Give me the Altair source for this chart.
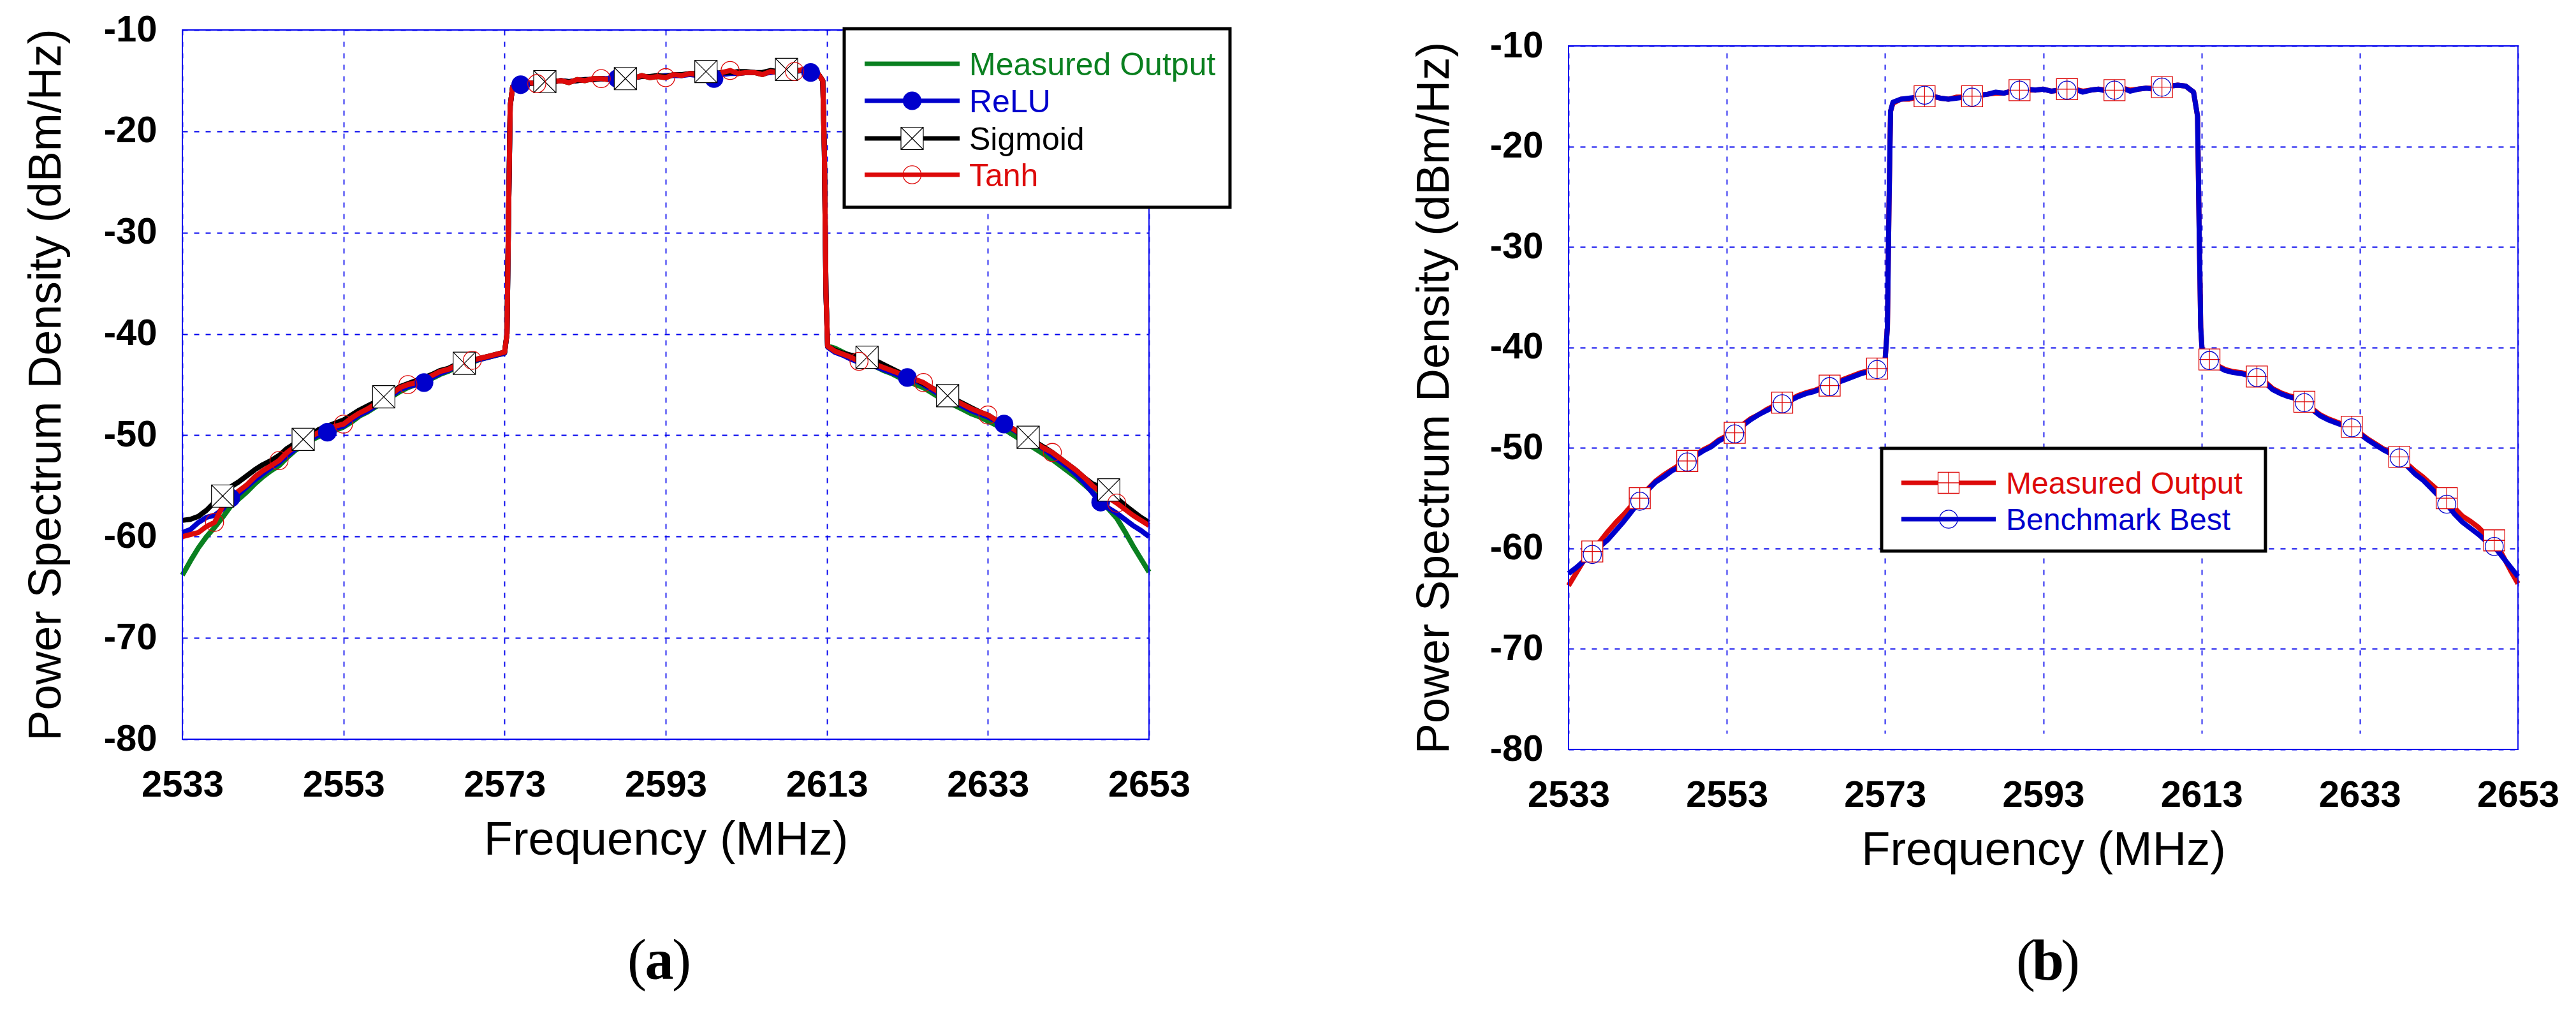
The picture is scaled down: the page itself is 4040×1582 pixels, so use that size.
import altair as alt
import pandas as pd

# frequency grid (MHz) shared by every trace
freq_left = list(range(2533, 2574))
freq_rise = [2573.3, 2573.5, 2573.7]
freq_band = list(range(2574, 2613))
freq_fall = [2612.5, 2612.7, 2612.9, 2613.1]
freq_right = list(range(2614, 2654))

x_ticks = [2533, 2553, 2573, 2593, 2613, 2633, 2653]
y_ticks = [-80, -70, -60, -50, -40, -30, -20, -10]

# ---- panel (a) -------------------------------------------------------------
meas_a_left = [-63.8, -62.4, -61.1, -60.0, -59.1, -58.1, -57.0, -56.3, -55.6, -54.8,
               -54.1, -53.5, -53.0, -52.2, -51.5, -51.0, -50.5, -50.1, -49.8, -49.5,
               -49.2, -48.7, -48.1, -47.7, -47.2, -46.7, -46.2, -45.7, -45.3, -45.0,
               -44.8, -44.4, -44.0, -43.7, -43.3, -43.0, -42.8, -42.5, -42.3, -42.1, -41.9]
meas_a_rise = [-40.0, -28.0, -17.5]
meas_a_band = [-15.6, -15.4, -15.2, -15.3, -15.0, -15.1, -15.0, -15.2, -14.9, -15.0,
               -14.8, -14.8, -14.9, -14.7, -14.6, -14.8, -14.5, -14.7, -14.6, -14.7,
               -14.4, -14.5, -14.3, -14.4, -14.3, -14.5, -14.2, -14.1, -14.3, -14.2,
               -14.2, -14.4, -14.1, -14.2, -14.0, -14.1, -14.0, -14.1, -14.4]
meas_a_fall = [-15.0, -22.0, -36.0, -41.2]
meas_a_right = [-41.4, -41.8, -42.2, -42.6, -42.9, -43.2, -43.6, -43.9, -44.3, -44.6,
                -45.0, -45.3, -45.8, -46.3, -46.7, -47.1, -47.5, -47.9, -48.2, -48.6,
                -49.0, -49.4, -49.9, -50.4, -50.9, -51.4, -51.9, -52.4, -53.0, -53.6,
                -54.2, -54.9, -55.6, -56.4, -57.3, -58.2, -59.5, -60.9, -62.2, -63.5]

relu_left = [-59.6, -59.3, -58.6, -58.1, -57.9, -57.3, -56.2, -55.8, -55.1, -54.4,
             -53.8, -53.2, -52.7, -52.0, -51.4, -50.9, -50.4, -49.9, -49.7, -49.3,
             -49.1, -48.5, -48.0, -47.6, -47.1, -46.6, -46.1, -45.5, -45.2, -45.0,
             -44.8, -44.3, -43.9, -43.6, -43.2, -42.9, -42.7, -42.5, -42.3, -42.1, -41.9]
relu_rise = [-40.0, -28.0, -17.5]
relu_band = [-15.6, -15.4, -15.3, -15.2, -15.1, -15.1, -15.0, -15.1, -15.0, -14.9,
             -14.9, -14.8, -14.8, -14.8, -14.7, -14.7, -14.6, -14.6, -14.6, -14.5,
             -14.5, -14.5, -14.4, -14.5, -14.6, -14.8, -14.4, -14.3, -14.3, -14.2,
             -14.2, -14.3, -14.2, -14.1, -14.1, -14.1, -14.0, -14.2, -14.4]
relu_fall = [-15.0, -22.0, -36.0, -41.3]
relu_right = [-41.8, -42.1, -42.5, -42.8, -43.0, -43.2, -43.5, -43.8, -44.1, -44.3,
              -44.6, -45.0, -45.5, -46.0, -46.4, -46.8, -47.2, -47.6, -47.9, -48.2,
              -48.6, -48.9, -49.4, -49.9, -50.4, -50.9, -51.4, -52.0, -52.6, -53.2,
              -53.9, -54.7, -55.7, -56.6, -57.2, -57.7, -58.3, -58.9, -59.4, -60.0]

sigm_left = [-58.4, -58.3, -58.0, -57.4, -56.6, -56.0, -55.1, -54.6, -54.0, -53.4,
             -52.9, -52.5, -52.0, -51.3, -50.8, -50.4, -49.9, -49.4, -49.1, -48.8,
             -48.5, -48.0, -47.5, -47.1, -46.7, -46.2, -45.8, -45.2, -44.9, -44.6,
             -44.3, -44.0, -43.6, -43.4, -43.0, -42.9, -42.6, -42.4, -42.2, -42.0, -41.8]
sigm_rise = [-40.0, -28.0, -17.5]
sigm_band = [-15.6, -15.4, -15.3, -15.2, -15.1, -15.1, -15.0, -15.1, -15.0, -14.9,
             -14.9, -14.8, -14.9, -14.8, -14.8, -14.7, -14.6, -14.6, -14.5, -14.6,
             -14.4, -14.4, -14.3, -14.3, -14.1, -14.3, -14.2, -14.2, -14.1, -14.1,
             -14.2, -14.2, -14.0, -14.1, -13.9, -14.0, -14.0, -14.1, -14.4]
sigm_fall = [-15.0, -22.0, -36.0, -41.2]
sigm_right = [-41.6, -41.9, -42.1, -42.2, -42.3, -42.6, -43.0, -43.4, -43.8, -44.1,
              -44.5, -44.9, -45.3, -45.7, -46.1, -46.5, -46.9, -47.3, -47.7, -48.0,
              -48.5, -48.9, -49.3, -49.8, -50.2, -50.7, -51.2, -51.7, -52.3, -52.9,
              -53.5, -54.2, -54.8, -55.1, -55.4, -56.2, -56.9, -57.5, -58.1, -58.6]

tanh_left = [-60.0, -59.8, -59.6, -59.0, -58.6, -57.0, -56.1, -55.5, -54.9, -54.1,
             -53.5, -53.0, -52.5, -51.7, -51.1, -50.6, -50.1, -49.7, -49.4, -49.1,
             -48.9, -48.3, -47.8, -47.4, -46.9, -46.4, -45.9, -45.3, -45.0, -44.8,
             -44.5, -44.1, -43.7, -43.5, -43.1, -42.8, -42.6, -42.4, -42.2, -42.0, -41.8]
tanh_rise = [-40.0, -28.0, -17.5]
tanh_band = [-15.6, -15.4, -15.2, -15.3, -15.0, -15.1, -15.0, -15.2, -14.9, -15.0,
             -14.8, -14.8, -14.9, -14.7, -14.6, -14.8, -14.5, -14.7, -14.6, -14.7,
             -14.4, -14.5, -14.3, -14.4, -14.3, -14.5, -14.2, -14.0, -14.3, -14.2,
             -14.2, -14.4, -14.1, -14.2, -14.0, -14.1, -13.9, -14.1, -14.4]
tanh_fall = [-15.0, -22.0, -36.0, -41.2]
tanh_right = [-41.7, -42.0, -42.3, -42.7, -42.8, -43.0, -43.3, -43.6, -43.9, -44.2,
              -44.5, -44.8, -45.3, -45.8, -46.2, -46.6, -47.0, -47.4, -47.7, -48.0,
              -48.5, -48.9, -49.3, -49.8, -50.3, -50.8, -51.3, -51.7, -52.3, -52.9,
              -53.5, -54.2, -55.0, -55.6, -56.2, -56.7, -57.3, -57.9, -58.4, -58.9]

relu_marks = [2539, 2551, 2563, 2575, 2587, 2599, 2611, 2623, 2635, 2647]
sigm_marks = [2538, 2548, 2558, 2568, 2578, 2588, 2598, 2608, 2618, 2628, 2638, 2648]
tanh_marks = [2537, 2545, 2553, 2561, 2569, 2577, 2585, 2593, 2601, 2609, 2617, 2625,
              2633, 2641, 2649]

# ---- panel (b) -------------------------------------------------------------
meas_b_left = [-63.7, -62.4, -61.1, -60.3, -59.3, -58.3, -57.4, -56.6, -55.7, -55.0,
               -54.1, -53.3, -52.7, -52.2, -51.7, -51.3, -50.7, -50.2, -49.8, -49.2,
               -48.8, -48.5, -47.7, -47.1, -46.7, -46.2, -45.8, -45.5, -45.2, -44.8,
               -44.5, -44.3, -44.0, -43.8, -43.4, -43.1, -42.8, -42.5, -42.3, -42.1, -41.3]
meas_b_rise = [-38.0, -26.0, -16.5]
meas_b_band = [-15.7, -15.3, -15.3, -15.1, -15.0, -15.0, -15.2, -15.3, -15.1, -15.1,
               -15.0, -14.9, -14.8, -14.7, -14.7, -14.5, -14.4, -14.4, -14.4, -14.3,
               -14.5, -14.4, -14.3, -14.3, -14.5, -14.4, -14.3, -14.4, -14.4, -14.2,
               -14.4, -14.3, -14.2, -14.2, -14.1, -14.0, -13.9, -14.0, -14.6]
meas_b_fall = [-17.0, -28.0, -38.0, -40.6]
meas_b_right = [-41.2, -41.8, -42.2, -42.4, -42.5, -42.7, -42.9, -43.4, -44.1, -44.5,
                -44.8, -45.0, -45.4, -46.1, -46.7, -47.1, -47.4, -47.7, -47.9, -48.5,
                -49.1, -49.6, -50.1, -50.5, -50.9, -51.6, -52.3, -52.9, -53.6, -54.3,
                -55.0, -56.0, -56.8, -57.3, -57.9, -58.7, -59.2, -60.6, -62.1, -63.5]

bench_left = [-62.5, -61.9, -61.2, -60.6, -59.8, -59.1, -58.2, -57.3, -56.3, -55.3,
              -54.2, -53.4, -52.9, -52.3, -51.9, -51.4, -50.8, -50.3, -49.9, -49.3,
              -48.9, -48.6, -47.8, -47.2, -46.7, -46.3, -45.9, -45.6, -45.3, -44.9,
              -44.6, -44.4, -44.1, -43.9, -43.5, -43.2, -42.9, -42.6, -42.4, -42.2, -41.4]
bench_rise = [-38.0, -26.0, -16.5]
bench_band = [-15.6, -15.3, -15.2, -15.1, -14.9, -15.0, -15.2, -15.3, -15.2, -15.1,
              -15.1, -14.9, -14.8, -14.6, -14.7, -14.5, -14.4, -14.3, -14.4, -14.3,
              -14.5, -14.4, -14.4, -14.3, -14.6, -14.4, -14.3, -14.5, -14.4, -14.2,
              -14.5, -14.3, -14.2, -14.3, -14.1, -14.0, -13.9, -14.0, -14.6]
bench_fall = [-17.0, -28.0, -38.0, -40.6]
bench_right = [-41.3, -41.9, -42.3, -42.5, -42.6, -42.8, -43.0, -43.5, -44.2, -44.6,
               -44.9, -45.1, -45.5, -46.2, -46.8, -47.2, -47.5, -47.8, -48.0, -48.6,
               -49.2, -49.7, -50.2, -50.6, -51.0, -51.8, -52.6, -53.2, -54.0, -54.8,
               -55.6, -56.6, -57.4, -58.0, -58.6, -59.3, -59.8, -60.8, -61.8, -62.8]

b_marks = [2536, 2542, 2548, 2554, 2560, 2566, 2572, 2578, 2584, 2590, 2596, 2602,
           2608, 2614, 2620, 2626, 2632, 2638, 2644, 2650]

SANS = "Liberation Sans"
SERIF = "Liberation Serif"
GREEN = "#0a8020"
BLUE = "#0000cc"
RED = "#dd0a0a"
GRID = "#0000ee"
BOX_X = "M-1,-1L1,-1L1,1L-1,1Z M-1,-1L1,1 M1,-1L-1,1"
BOX_PLUS = "M-1,-1L1,-1L1,1L-1,1Z M0,-1L0,1 M-1,0L1,0"


def trace(name, left, rise, band, fall, right):
    freq = freq_left + freq_rise + freq_band + freq_fall + freq_right
    psd = left + rise + band + fall + right
    assert len(freq) == len(psd), name
    return pd.DataFrame({"freq": freq, "psd": psd, "series": name})


def encodings(w, h, ytitle_x, top):
    # plot box runs from y=top to y=top+h inside a group of height top+h
    x = alt.X("freq:Q", scale=alt.Scale(domain=[2533, 2653], nice=False, zero=False),
              axis=alt.Axis(values=x_ticks, labelExpr="'' + datum.value", labelFont=SANS,
                            labelFontSize=58, labelFontWeight="bold", labelColor="black",
                            labelPadding=43, labelFlush=False, labelOverlap=False,
                            ticks=False, tickSize=0, domain=False,
                            grid=True, gridColor=GRID, gridDash=[8, 10], gridWidth=1.8,
                            title="Frequency (MHz)", titleFont=SANS, titleFontSize=74,
                            titleFontWeight="normal", titleColor="black",
                            titleX=w / 2, titleY=180, titleAlign="center",
                            titleBaseline="alphabetic"))
    y = alt.Y("psd:Q", scale=alt.Scale(domain=[-80, -10], range=[top + h, top],
                                       nice=False, zero=False),
              axis=alt.Axis(values=y_ticks, labelExpr="'' + datum.value", labelFont=SANS,
                            labelFontSize=58, labelFontWeight="bold", labelColor="black",
                            labelPadding=40, labelFlush=False, labelOverlap=False,
                            ticks=False, tickSize=0, domain=False,
                            grid=True, gridColor=GRID, gridDash=[8, 10], gridWidth=1.8,
                            title="Power Spectrum Density (dBm/Hz)", titleFont=SANS,
                            titleFontSize=72, titleFontWeight="normal", titleColor="black",
                            titleAngle=270, titleX=ytitle_x, titleY=top + h / 2,
                            titleAlign="center", titleBaseline="alphabetic"))
    return x, y


def line(df, name, color, x, y):
    return alt.Chart(df).transform_filter(alt.datum.series == name).mark_line(
        color=color, strokeWidth=8, strokeJoin="round").encode(x=x, y=y)


def markers(df, name, marks, x, y, **style):
    return alt.Chart(df).transform_filter(alt.datum.series == name).transform_filter(
        alt.FieldOneOfPredicate(field="freq", oneOf=marks)).mark_point(
        opacity=1, **style).encode(x=x, y=y)


one = pd.DataFrame({"k": [0]})


def frame(w, h, top):
    # white strip hides the grid above the plot box, then the blue plot border
    cover = alt.Chart(one).mark_rect(fill="white").encode(
        x=alt.value(-3), x2=alt.value(w + 3), y=alt.value(-5), y2=alt.value(top - 1))
    box = alt.Chart(one).mark_rect(filled=False, stroke=GRID, strokeWidth=1.8).encode(
        x=alt.value(0), x2=alt.value(w), y=alt.value(top), y2=alt.value(top + h))
    return [cover, box] if top > 0 else [box]


def legend(box, rows, line_x, text_x, font_size, text_dy):
    x1, x2, y1, y2 = box
    layers = [alt.Chart(one).mark_rect(fill="white", stroke="black", strokeWidth=5).encode(
        x=alt.value(x1), x2=alt.value(x2), y=alt.value(y1), y2=alt.value(y2))]
    for label, color, ry, style in rows:
        layers.append(alt.Chart(one).mark_rule(color=color, strokeWidth=7).encode(
            x=alt.value(line_x[0]), x2=alt.value(line_x[1]), y=alt.value(ry)))
        if style:
            layers.append(alt.Chart(one).mark_point(opacity=1, **style).encode(
                x=alt.value((line_x[0] + line_x[1]) / 2), y=alt.value(ry)))
        layers.append(alt.Chart(one).mark_text(
            text=label, font=SANS, fontSize=font_size, color=color, align="left",
            baseline="alphabetic").encode(x=alt.value(text_x), y=alt.value(ry + text_dy)))
    return layers


def caption(letter, cx, base_y):
    parts = [("(", cx - 35, "normal"), (letter, cx, "bold"), (")", cx + 35, "normal")]
    return [alt.Chart(one).mark_text(text=t, font=SERIF, fontSize=90, fontWeight=wt,
                                     color="black", align="center", baseline="alphabetic")
            .encode(x=alt.value(px), y=alt.value(base_y)) for t, px, wt in parts]


relu_style = dict(shape="circle", size=855, filled=True, fill=BLUE, strokeWidth=0)
sigm_style = dict(shape=BOX_X, size=1225, filled=True, fill="white", stroke="black",
                  strokeWidth=1.2)
tanh_style = dict(shape="circle", size=804, filled=False, stroke=RED, strokeWidth=1.3)
plus_style = dict(shape=BOX_PLUS, size=1089, filled=True, fill="white", stroke=RED,
                  strokeWidth=1.3)
ring_style = dict(shape="circle", size=804, filled=False, stroke=BLUE, strokeWidth=1.3)

# panel (a)
WA, HA, TA = 1516, 1112, 0
df_a = pd.concat([
    trace("Measured Output", meas_a_left, meas_a_rise, meas_a_band, meas_a_fall, meas_a_right),
    trace("ReLU", relu_left, relu_rise, relu_band, relu_fall, relu_right),
    trace("Sigmoid", sigm_left, sigm_rise, sigm_band, sigm_fall, sigm_right),
    trace("Tanh", tanh_left, tanh_rise, tanh_band, tanh_fall, tanh_right),
], ignore_index=True)
xa, ya = encodings(WA, HA, -192, TA)
layers_a = [
    line(df_a, "Measured Output", GREEN, xa, ya),
    line(df_a, "ReLU", BLUE, xa, ya),
    line(df_a, "Sigmoid", "black", xa, ya),
    line(df_a, "Tanh", RED, xa, ya),
    markers(df_a, "ReLU", relu_marks, xa, ya, **relu_style),
    markers(df_a, "Sigmoid", sigm_marks, xa, ya, **sigm_style),
    markers(df_a, "Tanh", tanh_marks, xa, ya, **tanh_style),
]
layers_a += frame(WA, HA, TA)
layers_a += legend((1038, 1643, -2, 278),
                   [("Measured Output", GREEN, 53, None),
                    ("ReLU", BLUE, 111, relu_style),
                    ("Sigmoid", "black", 170, sigm_style),
                    ("Tanh", RED, 227, tanh_style)],
                   (1070, 1219), 1234, 50, 18)
layers_a += caption("a", 748, 1488)
chart_a = alt.layer(*layers_a).properties(width=WA, height=TA + HA)

# panel (b): its plot box starts 25 px lower than panel (a)'s
WB, HB, TB = 1489, 1103, 25
df_b = pd.concat([
    trace("Measured Output", meas_b_left, meas_b_rise, meas_b_band, meas_b_fall, meas_b_right),
    trace("Benchmark Best", bench_left, bench_rise, bench_band, bench_fall, bench_right),
], ignore_index=True)
xb, yb = encodings(WB, HB, -189, TB)
layers_b = [
    line(df_b, "Measured Output", RED, xb, yb),
    line(df_b, "Benchmark Best", BLUE, xb, yb),
    markers(df_b, "Measured Output", b_marks, xb, yb, **plus_style),
    markers(df_b, "Benchmark Best", b_marks, xb, yb, **ring_style),
]
layers_b += frame(WB, HB, TB)
layers_b += legend((491, 1093, TB + 631, TB + 792),
                   [("Measured Output", RED, TB + 685, plus_style),
                    ("Benchmark Best", BLUE, TB + 742, ring_style)],
                   (522, 670), 686, 48, 17)
layers_b += caption("b", 752, TB + 1464)
chart_b = alt.layer(*layers_b).properties(width=WB, height=TB + HB)

chart = alt.hconcat(chart_a, chart_b, spacing=280).properties(
    padding={"left": 27, "top": 10, "right": 5, "bottom": 5},
    background="white",
).configure(font=SANS).configure_view(stroke="transparent", strokeWidth=0)

chart.save("out.html", embed_options={"renderer": "svg", "actions": False})
